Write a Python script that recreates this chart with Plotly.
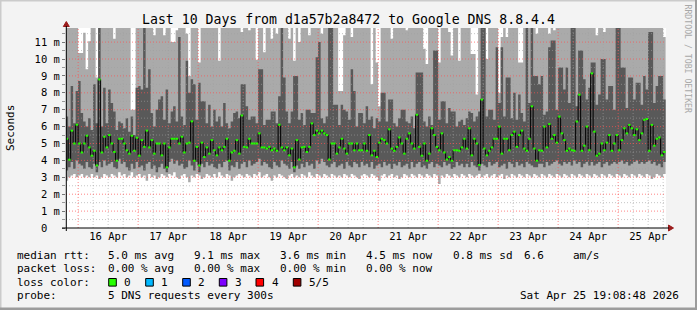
import numpy as np
import pandas as pd
import plotly.graph_objects as go

# ---------------- data (hourly columns, ms) ----------------
START = "2026-04-15 19:00:00"
RANGE_START = "2026-04-15 19:08:48"
RANGE_END = "2026-04-25 19:08:48"

median = [
    5.28, 4.04, 5.76, 5.0, 6.11, 5.0, 4.47, 5.0, 5.46, 4.77, 4.28, 4.57, 3.7, 8.79, 4.47, 5.4, 4.77, 5.5, 5.0, 4.5,
    3.98, 5.28, 5.28, 5.0, 4.6, 4.4, 5.46, 4.57, 5.34, 4.28, 5.2, 4.8, 5.76, 4.77, 5.2, 4.4, 5.0, 5.0,
    4.3, 5.0, 3.59, 4.77, 5.28, 5.28, 5.28, 5.0, 5.4, 4.47, 5.0, 5.05, 6.31, 3.98, 4.8, 3.7, 5.05, 4.2, 4.77, 4.4,
    5.2, 4.6, 4.3, 4.77, 4.6, 4.8, 5.28, 3.98, 4.47, 4.57, 5.2, 4.4, 6.66, 4.8, 4.77, 5.28, 5.0, 5.0,
    5.0, 5.6, 4.77, 4.77, 4.7, 4.8, 4.6, 4.7, 4.57, 6.11, 4.77, 4.6, 4.77, 4.3, 4.7, 3.59, 5.2, 4.05, 4.77, 4.8,
    4.5, 4.8, 6.19, 5.5, 5.76, 5.6, 5.76, 5.6, 5.5, 4.05, 5.0, 5.0, 4.4, 4.77, 5.28, 4.7, 4.4, 5.0, 5.0, 4.6,
    5.0, 4.6, 4.6, 5.0, 4.57, 5.5, 4.3, 4.57, 4.2, 5.05, 5.28, 5.2, 5.0, 5.84, 4.7, 4.57, 4.8, 5.36, 5.0, 4.4,
    5.28, 5.6, 5.0, 4.7, 6.7, 4.8, 4.28, 5.0, 3.98, 4.4, 5.9, 5.5, 4.8, 4.6, 5.6, 4.47, 4.05, 4.2, 3.98, 4.6, 4.6,
    4.57, 4.77, 5.28, 4.7, 5.9, 4.3, 5.28, 5.0, 3.73, 7.6, 4.7, 4.3, 4.57, 4.77, 5.28, 5.28, 6.0, 4.4, 5.28, 5.28,
    4.6, 5.5, 5.7, 4.8, 5.5, 5.76, 4.7, 4.57, 5.28, 7.2, 4.7, 3.98, 4.6, 4.57, 6.0, 4.77, 6.15, 5.28, 5.5, 5.05,
    6.59, 5.6, 5.2, 4.57, 4.7, 4.6, 4.57, 6.3, 7.89, 4.57, 4.87, 6.0, 4.6, 9.15, 5.7, 4.28, 4.4, 5.0, 4.6, 5.05,
    5.5, 4.57, 5.0, 5.5, 4.6, 5.2, 5.9, 5.6, 6.1, 5.9, 5.5, 5.84, 5.2, 5.6, 6.4, 6.45, 4.57, 6.1, 4.87, 5.28,
    5.36, 4.3, 4.5,
]

ping_min = [
    2.8, 3.0, 3.1, 3.2, 3.0, 3.1, 3.2, 3.0, 3.1, 3.0, 3.2, 3.0, 3.1, 2.9, 3.0, 3.2, 3.1, 3.0, 3.2, 3.1,
    3.0, 3.3, 3.1, 3.2, 3.0, 3.1, 3.3, 3.0, 3.1, 3.2, 3.0, 3.1, 2.8, 3.2, 3.0, 3.1, 2.9, 3.0, 3.2, 3.1,
    3.0, 3.2, 3.1, 3.3, 3.0, 2.9, 3.1, 3.2, 3.0, 2.7, 3.1, 3.0, 3.2, 3.1, 2.9, 3.0, 3.2, 3.1, 3.0, 3.2,
    3.0, 3.3, 3.1, 3.0, 3.2, 3.1, 2.8, 3.0, 3.1, 3.2, 3.1, 3.0, 3.2, 3.1, 3.0, 3.2, 3.1, 3.3, 3.0, 3.1,
    3.2, 3.0, 2.8, 3.1, 3.0, 3.2, 3.1, 3.0, 2.9, 3.1, 3.2, 3.0, 3.1, 3.0, 3.2, 3.1, 3.0, 3.3, 3.1, 3.0,
    3.2, 3.1, 3.0, 3.2, 3.1, 3.0, 3.2, 3.1, 3.0, 3.1, 3.0, 3.2, 3.1, 3.0, 3.2, 3.1, 3.0, 2.9, 3.1, 3.2,
    3.1, 3.0, 3.2, 3.1, 3.0, 2.8, 3.1, 3.2, 3.0, 3.1, 3.2, 3.0, 3.1, 2.9, 3.0, 3.2, 3.1, 3.0, 3.2, 3.1,
    3.0, 3.2, 3.1, 3.0, 3.2, 3.1, 3.0, 3.2, 3.1, 2.6, 3.1, 3.0, 3.2, 3.1, 3.0, 3.2, 3.1, 3.0, 3.2, 3.1,
    3.0, 3.2, 3.1, 3.0, 3.1, 3.2, 3.0, 3.1, 3.2, 3.0, 3.1, 3.2, 3.0, 3.1, 3.2, 2.9, 3.1, 3.0, 3.2, 3.1,
    3.0, 3.2, 3.1, 3.0, 3.2, 3.1, 3.0, 3.2, 3.1, 3.0, 3.2, 3.1, 3.0, 3.2, 3.1, 3.0, 3.2, 3.1, 3.0, 3.2,
    3.1, 3.0, 3.2, 3.1, 3.0, 3.2, 3.1, 3.0, 3.2, 3.1, 3.0, 3.2, 3.1, 3.0, 3.2, 3.1, 3.0, 3.2, 3.1, 3.0,
    3.2, 3.1, 3.0, 3.2, 3.1, 3.0, 3.2, 3.1, 3.0, 3.2, 3.1, 3.0, 3.2, 3.1, 2.9, 3.0, 3.2, 3.1, 3.0, 3.2,
]

ping_2 = [
    3.4, 3.6, 3.9, 3.5, 4.0, 3.8, 3.7, 3.5, 3.9, 3.6, 3.5, 3.8, 3.3, 3.9, 3.6, 4.0, 3.7, 3.8, 3.9, 3.6,
    3.5, 4.1, 3.8, 3.9, 3.6, 3.4, 3.8, 3.5, 3.9, 3.6, 3.7, 3.4, 3.8, 3.9, 3.5, 3.7, 3.3, 3.6, 3.8, 3.5,
    3.3, 3.9, 4.1, 3.8, 4.0, 3.7, 3.8, 3.5, 3.6, 4.0, 3.7, 3.4, 3.9, 3.3, 3.8, 3.6, 3.9, 3.7, 3.8, 3.6,
    3.5, 3.8, 3.6, 3.9, 4.0, 3.4, 3.7, 3.6, 3.9, 3.5, 3.8, 3.9, 3.6, 4.0, 3.7, 3.8, 3.9, 4.1, 3.7, 3.9,
    3.8, 3.6, 3.5, 3.9, 3.7, 3.6, 4.0, 3.8, 3.7, 3.5, 3.9, 3.3, 3.7, 3.5, 3.8, 3.6, 3.9, 3.7, 3.8, 3.5,
    4.0, 3.8, 4.1, 3.9, 3.7, 3.6, 3.8, 3.9, 3.6, 3.7, 3.8, 3.5, 3.9, 3.7, 3.6, 3.9, 3.8, 3.6, 3.9, 3.7,
    3.8, 3.6, 3.9, 3.5, 3.7, 3.8, 3.6, 3.9, 3.7, 3.8, 3.5, 3.8, 3.7, 3.9, 3.6, 3.7, 3.8, 3.5, 3.9, 3.6,
    3.8, 3.9, 3.6, 3.7, 3.5, 3.8, 3.9, 3.6, 3.8, 3.7, 3.6, 3.9, 3.7, 3.8, 3.5, 3.6, 3.9, 3.7, 3.8, 3.6,
    3.8, 3.6, 3.9, 3.7, 3.6, 3.4, 3.8, 3.7, 3.6, 3.9, 3.7, 3.8, 3.9, 3.6, 3.7, 3.8, 3.5, 3.9, 3.8, 3.6,
    3.9, 3.7, 3.8, 3.6, 3.9, 3.8, 3.7, 3.6, 3.6, 3.8, 3.8, 3.6, 3.9, 3.7, 3.8, 3.9, 4.0, 3.8, 3.7, 3.9,
    3.8, 3.9, 3.7, 4.0, 3.8, 3.9, 3.6, 3.8, 3.9, 3.7, 3.9, 3.7, 3.8, 3.9, 3.6, 3.8, 3.9, 3.7, 3.8, 3.9,
    3.8, 3.9, 4.0, 3.8, 3.9, 3.7, 3.8, 3.9, 4.0, 3.8, 3.9, 3.8, 3.9, 4.0, 3.8, 3.9, 3.7, 3.8, 3.6, 3.9,
]

ping_4 = [
    6.6, 6.0, 8.4, 6.2, 8.1, 8.7, 6.8, 6.3, 6.0, 6.5, 5.8, 8.5, 6.2, 11.9, 6.0, 8.3, 6.2, 8.2, 7.4, 6.9,
    5.8, 6.3, 6.2, 5.9, 6.5, 5.7, 6.6, 5.5, 8.3, 8.4, 8.2, 11.9, 8.3, 9.4, 6.8, 6.0, 7.0, 7.6, 7.8, 6.4,
    8.2, 6.2, 6.9, 7.2, 6.3, 11.3, 6.6, 6.1, 9.9, 8.0, 8.8, 8.5, 6.4, 8.6, 7.5, 7.5, 6.2, 7.3, 6.0, 7.0,
    6.3, 6.6, 6.0, 7.4, 6.2, 5.9, 6.3, 6.8, 6.9, 6.5, 8.5, 8.5, 7.2, 6.4, 6.6, 6.6, 6.2, 9.4, 9.4, 6.1,
    6.4, 6.4, 6.9, 6.9, 6.2, 7.8, 11.9, 8.9, 6.9, 6.2, 6.9, 9.0, 9.0, 6.4, 6.8, 6.1, 7.0, 7.0, 6.8, 6.8,
    10.1, 11.0, 6.5, 6.2, 6.6, 11.9, 11.9, 7.3, 7.3, 6.1, 7.3, 7.0, 6.9, 6.4, 9.4, 8.1, 6.0, 6.8, 6.8, 6.2,
    7.2, 6.4, 6.6, 5.9, 6.5, 6.3, 8.0, 8.0, 6.3, 7.6, 7.6, 6.2, 6.0, 6.5, 7.0, 7.0, 6.3, 6.2, 6.6, 5.9,
    9.2, 9.2, 9.2, 6.3, 6.0, 6.6, 6.1, 10.5, 10.5, 6.4, 7.5, 7.5, 6.2, 7.1, 6.9, 6.9, 6.0, 6.3, 6.4, 6.1,
    6.5, 6.9, 6.8, 6.3, 6.6, 6.9, 11.9, 11.9, 6.6, 7.0, 7.0, 6.4, 10.7, 7.4, 10.7, 6.6, 8.9, 8.9, 6.5, 8.0,
    6.4, 7.9, 6.8, 6.3, 11.9, 7.4, 11.9, 9.0, 9.0, 8.5, 9.0, 6.7, 6.9, 10.7, 11.1, 11.1, 7.0, 9.5, 9.5, 8.2,
    9.5, 7.4, 11.9, 11.9, 7.2, 10.5, 10.5, 8.8, 7.6, 8.3, 9.8, 9.8, 7.3, 7.9, 10.0, 10.0, 7.6, 8.4, 8.4, 7.0,
    11.9, 11.9, 9.5, 9.5, 7.1, 8.9, 8.9, 7.6, 8.6, 8.6, 7.3, 9.0, 8.2, 11.6, 11.6, 7.4, 8.4, 9.0, 9.0, 7.6,
]

ping_max = [
    12.5, 12.5, 12.5, 12.5, 12.5, 10.35, 10.35, 11.55, 9.4, 11.05, 12.5, 12.5, 8.9, 12.5, 12.5, 12.5, 12.5, 12.5, 12.5, 11.2,
    12.5, 12.5, 12.5, 12.5, 12.5, 12.5, 7.0, 7.0, 12.5, 12.5, 12.5, 12.5, 12.5, 12.5, 12.5, 11.4, 12.5, 12.5, 12.5, 11.4,
    12.5, 12.5, 11.0, 11.0, 11.7, 12.5, 12.5, 12.5, 11.5, 9.0, 12.5, 12.5, 12.5, 9.8, 12.5, 12.5, 12.5, 12.5, 12.5, 12.5,
    12.5, 9.9, 12.5, 12.5, 12.5, 12.5, 12.5, 12.5, 12.5, 12.5, 11.6, 12.5, 12.5, 11.7, 12.5, 12.5, 9.96, 12.5, 12.5, 10.4,
    12.5, 12.5, 11.2, 12.5, 11.5, 12.5, 12.5, 12.5, 12.5, 11.2, 12.5, 9.9, 12.5, 11.0, 12.5, 12.5, 12.5, 11.4, 12.5, 12.5,
    12.5, 12.5, 11.5, 12.5, 12.5, 12.5, 12.5, 12.5, 12.5, 8.1, 8.1, 11.4, 12.5, 12.5, 11.3, 12.5, 12.5, 12.5, 12.5, 12.5,
    12.5, 12.5, 8.5, 12.5, 9.8, 7.2, 12.5, 12.5, 12.5, 12.5, 11.2, 12.5, 12.5, 12.5, 12.5, 12.5, 11.7, 12.5, 12.5, 12.5,
    12.5, 12.5, 12.5, 10.6, 9.7, 12.5, 12.5, 12.5, 12.5, 9.8, 12.5, 12.5, 12.5, 11.6, 10.2, 12.5, 12.5, 9.9, 12.5, 12.5,
    12.5, 12.5, 10.3, 10.3, 7.9, 12.5, 12.5, 12.5, 10.0, 12.5, 12.5, 12.5, 12.5, 8.0, 11.3, 12.5, 11.3, 12.5, 12.5, 12.5,
    12.5, 9.8, 9.8, 12.5, 12.5, 12.5, 12.5, 12.5, 11.5, 12.5, 12.5, 12.5, 12.5, 11.5, 12.5, 11.7, 12.5, 12.5, 12.5, 12.5,
    12.5, 12.5, 12.5, 12.5, 12.5, 12.5, 12.5, 12.5, 12.5, 12.5, 12.5, 12.5, 11.4, 12.5, 12.5, 11.6, 12.5, 12.5, 12.5, 12.5,
    12.5, 12.5, 12.5, 12.5, 12.5, 12.5, 12.5, 12.5, 12.5, 12.5, 12.5, 12.5, 12.5, 12.5, 12.5, 12.5, 12.5, 12.5, 12.5, 11.3,
]

y_tickvals = [0, 1, 2, 3, 4, 5, 6, 7, 8, 9, 10, 11]
y_ticktext = ["0\u00a0\u00a0", "1 m", "2 m", "3 m", "4 m", "5 m", "6 m", "7 m", "8 m", "9 m", "10 m", "11 m"]

title_text = "Last 10 Days from d1a57b2a8472 to Google DNS 8.8.4.4"
legend_rows = [
    [("median rtt:", 16), ("5.0 ms avg", 107.3), ("9.1 ms max", 193.3), ("3.6 ms min", 279.3),
     ("4.5 ms now", 365), ("0.8 ms sd", 451.7), ("6.6", 523.3), ("am/s", 572)],
    [("packet loss:", 16), ("0.00 % avg", 107.3), ("0.00 % max", 193.3), ("0.00 % min", 279.3),
     ("0.00 % now", 365)],
    [("loss color:", 16)],
    [("probe:", 16), ("5 DNS requests every 300s", 107.3)],
]
loss_labels = ["0", "1", "2", "3", "4", "5/5"]
loss_colors = ["#26ff00", "#00b8ff", "#0059ff", "#7e00ff", "#ff0000", "#a00000"]
timestamp_text = "Sat Apr 25 19:08:48 2026"

# ---------------- layout geometry ----------------
W, H = 697, 310
L, R, T, B = 66, 31, 28, 82
PW, PH = W - L - R, H - T - B
YMAX = PH / 16.9
FONT = "DejaVu Sans Mono"


def fx(px):
    return (px - L) / PW


def fy(py):
    return (H - B - py) / PH


hours = pd.date_range(START, periods=len(median), freq="h")
# step edges: each hourly value holds until the next hour
edges = list(hours) + [hours[-1] + pd.Timedelta(hours=1)]


def held(values):
    return list(values) + [values[-1]]


fig = go.Figure()


def band(lower, upper, color):
    fig.add_trace(go.Scatter(x=edges, y=held(lower), mode="lines", line=dict(width=0, shape="hv"),
                             hoverinfo="skip"))
    fig.add_trace(go.Scatter(x=edges, y=held(upper), mode="lines", line=dict(width=0, shape="hv"),
                             fill="tonexty", fillcolor=color, hoverinfo="skip"))


# smoke: outer pings light, inner pings dark
band(ping_min, ping_max, "#aaaaaa")
band(ping_2, ping_4, "#595959")

# grid drawn over the smoke (as rrdtool does)
x0, x1 = pd.Timestamp(RANGE_START), pd.Timestamp(RANGE_END)
six = pd.date_range("2026-04-15 00:00", "2026-04-26 00:00", freq="6h")
six = [t for t in six if x0 <= t <= x1]
minor_v = [t for t in six if t.hour != 0]
major_v = [t for t in six if t.hour == 0]


def vseg(ts):
    xs, ys = [], []
    for t in ts:
        xs += [t, t, None]
        ys += [0, YMAX, None]
    return xs, ys


def hseg(vals):
    xs, ys = [], []
    for v in vals:
        xs += [x0, x1, None]
        ys += [v, v, None]
    return xs, ys


minor_h = [v + 0.5 for v in range(0, 12)]
major_h = list(range(1, 12))

for (xs, ys), col in [(vseg(minor_v), "rgba(160,160,160,0.6)"), (hseg(minor_h), "rgba(160,160,160,0.6)"),
                      (vseg(major_v), "rgba(255,80,80,0.7)"), (hseg(major_h), "rgba(255,80,80,0.7)")]:
    fig.add_trace(go.Scatter(x=xs, y=ys, mode="lines", hoverinfo="skip",
                             line=dict(color=col, width=1, dash="1px,2px")))

# median line: black steps, green level marks
fig.add_trace(go.Scatter(x=hours, y=median, mode="lines", line=dict(color="#000000", width=1, shape="hv"),
                         hoverinfo="skip"))
gx, gy = [], []
for t, m in zip(hours, median):
    gx += [t, t + pd.Timedelta(hours=1), None]
    gy += [m, m, None]
fig.add_trace(go.Scatter(x=gx, y=gy, mode="lines", line=dict(color=loss_colors[0], width=2),
                         hoverinfo="skip"))

# ---------------- annotations ----------------
ann = []
ann.append(dict(text=title_text, x=fx(W / 2), y=fy(19), xref="paper", yref="paper", showarrow=False,
                xanchor="center", yanchor="middle", font=dict(family=FONT, size=13.2, color="#000")))
ann.append(dict(text="Seconds", x=fx(10), y=fy(128), xref="paper", yref="paper", showarrow=False,
                textangle=-90, xanchor="center", yanchor="middle", font=dict(family=FONT, size=11, color="#000")))
ann.append(dict(text="RRDTOOL / TOBI OETIKER", x=fx(687.5), y=fy(59), xref="paper", yref="paper",
                showarrow=False, textangle=90, xanchor="center", yanchor="middle",
                font=dict(family=FONT, size=8.2, color="#a8a8a8")))
row_y = [255.5, 268.8, 282.3, 295.8]
for row, yy in zip(legend_rows, row_y):
    for txt, xx in row:
        ann.append(dict(text=txt.replace(" ", "\u00a0"), x=fx(xx - 1), y=fy(yy), xref="paper", yref="paper",
                        showarrow=False, xanchor="left", yanchor="middle",
                        font=dict(family=FONT, size=11, color="#000")))
ann.append(dict(text=timestamp_text, x=fx(681), y=fy(295.8), xref="paper", yref="paper", showarrow=False,
                xanchor="right", yanchor="middle", font=dict(family=FONT, size=11, color="#000")))

box_x = [108.7, 145.7, 182.7, 219.3, 256.0, 293.3]
shapes = []
for lab, col, bx in zip(loss_labels, loss_colors, box_x):
    shapes.append(dict(type="rect", xref="paper", yref="paper", x0=fx(bx), x1=fx(bx + 7.6),
                       y0=fy(278.5), y1=fy(286.1), fillcolor=col, line=dict(color="#000", width=1)))
    ann.append(dict(text=lab, x=fx(bx + 13.6), y=fy(282.3), xref="paper", yref="paper", showarrow=False,
                    xanchor="left", yanchor="middle", font=dict(family=FONT, size=11, color="#000")))

# axis arrows and axis lines
shapes.append(dict(type="path", xref="paper", yref="paper", fillcolor="#9b1c1c", line=dict(color="#9b1c1c", width=1),
                   path=f"M {fx(63.3)} {fy(26.5)} L {fx(69.3)} {fy(26.5)} L {fx(66.3)} {fy(21.5)} Z"))
shapes.append(dict(type="path", xref="paper", yref="paper", fillcolor="#9b1c1c", line=dict(color="#9b1c1c", width=1),
                   path=f"M {fx(668.5)} {fy(225)} L {fx(668.5)} {fy(231)} L {fx(673.5)} {fy(228)} Z"))
shapes.append(dict(type="line", xref="paper", yref="paper", x0=fx(62), x1=fx(669), y0=fy(228), y1=fy(228),
                   line=dict(color="#000", width=1)))
shapes.append(dict(type="line", xref="paper", yref="paper", x0=fx(66.3), x1=fx(66.3), y0=fy(231), y1=fy(26),
                   line=dict(color="#000", width=1)))

# figure frame
shapes.append(dict(type="line", xref="paper", yref="paper", x0=fx(0), x1=fx(W), y0=fy(0.5), y1=fy(0.5),
                   line=dict(color="#cbcbcb", width=2)))
shapes.append(dict(type="line", xref="paper", yref="paper", x0=fx(0.5), x1=fx(0.5), y0=fy(0), y1=fy(H),
                   line=dict(color="#cbcbcb", width=2)))
shapes.append(dict(type="line", xref="paper", yref="paper", x0=fx(0), x1=fx(W), y0=fy(H - 1), y1=fy(H - 1),
                   line=dict(color="#9c9c9c", width=3)))
shapes.append(dict(type="line", xref="paper", yref="paper", x0=fx(W - 1), x1=fx(W - 1), y0=fy(0), y1=fy(H),
                   line=dict(color="#9c9c9c", width=2)))

fig.update_layout(
    width=W, height=H, margin=dict(l=L, r=R, t=T, b=B, pad=0),
    paper_bgcolor="#f3f3f3", plot_bgcolor="#ffffff",
    showlegend=False,
    annotations=ann, shapes=shapes,
    xaxis=dict(type="date", range=[RANGE_START, RANGE_END], showgrid=False, zeroline=False,
               dtick=86400000, tick0="2026-04-16", tickformat="%d %b", ticklabelmode="period",
               ticks="", showline=False, tickfont=dict(family=FONT, size=10.5, color="#000")),
    yaxis=dict(range=[0, YMAX], showgrid=False, zeroline=False, tickvals=y_tickvals, ticktext=y_ticktext,
               ticks="outside", ticklen=3, tickcolor="#777", showline=False,
               minor=dict(dtick=0.5, ticks="outside", ticklen=3, tickcolor="#999"),
               tickfont=dict(family=FONT, size=10.5, color="#000")),
)

fig.write_html("out.html")
